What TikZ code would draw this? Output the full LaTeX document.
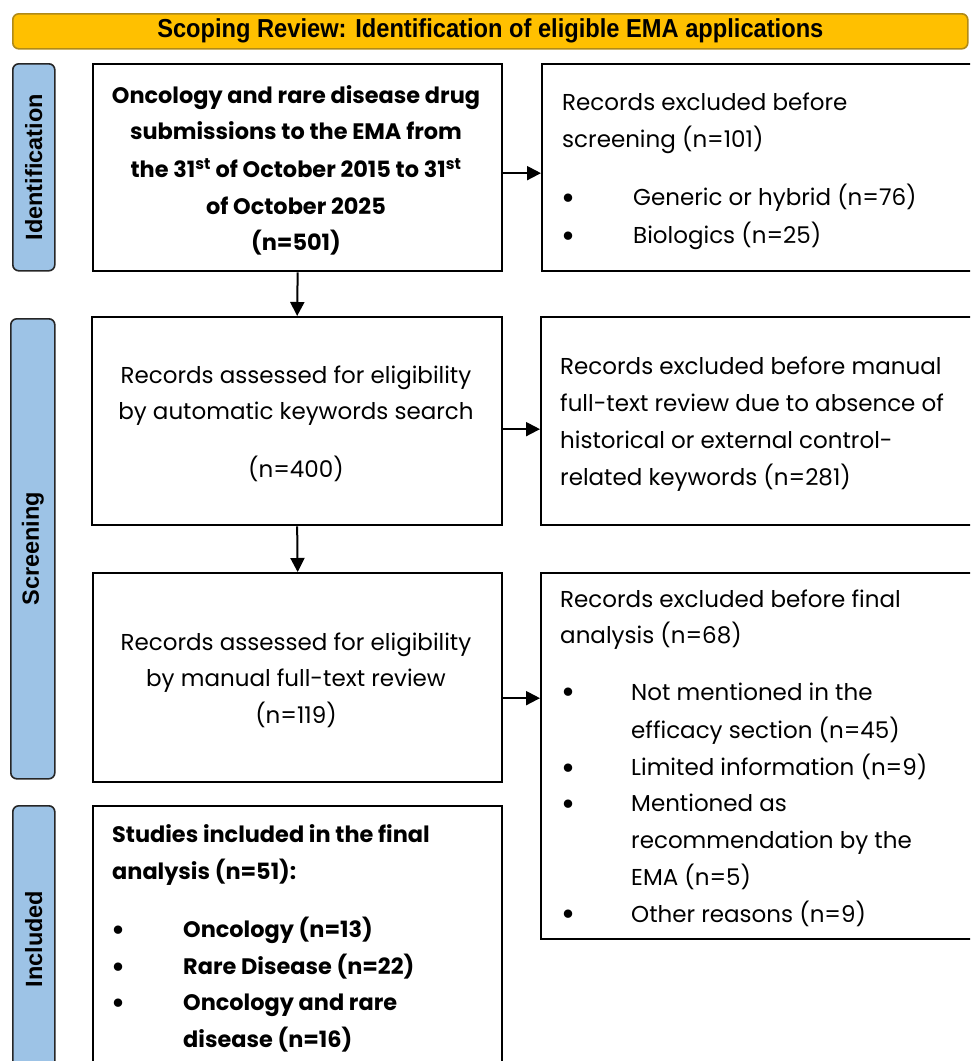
\documentclass[tikz,border=0pt]{standalone}
\usepackage{fontspec}
\setmainfont{Poppins}
\newfontfamily\headfont{Liberation Sans}
\usetikzlibrary{arrows.meta,calc}
\definecolor{bannerfill}{HTML}{FFC000}
\definecolor{bannerline}{HTML}{B08A18}
\definecolor{stagefill}{HTML}{9DC3E6}
\tikzset{
  box/.style={draw, line width=2.3pt, anchor=north west, inner sep=0pt},
  stage/.style={draw=black!85, fill=stagefill, rounded corners=6pt, line width=1.6pt, anchor=north west, inner sep=0pt},
  txt/.style={anchor=mid west, inner sep=0pt, yshift=-4.5pt, font=\fontsize{23}{27}\selectfont},
  ctxt/.style={anchor=mid, inner sep=0pt, yshift=-4.5pt, font=\fontsize{23}{27}\selectfont},
  btxt/.style={txt, font=\fontsize{22.4}{27}\selectfont\bfseries},
  bctxt/.style={ctxt, font=\fontsize{22.4}{27}\selectfont\bfseries},
  bul/.style={anchor=center, inner sep=0pt, yshift=-4pt, font=\fontsize{34}{36}\selectfont},
  stagetxt/.style={anchor=center, rotate=90, inner sep=0pt, font=\headfont\bfseries\fontsize{23.5}{26}\selectfont},
  arr/.style={line width=2pt, -{Triangle[length=14pt, width=14pt]}},
}
\begin{document}
\begin{tikzpicture}[x=1pt, y=-1pt]
\useasboundingbox (0,0) rectangle (970,1061);
\clip (0,0) rectangle (970,1061);

% title banner
\node[draw=bannerline, fill=bannerfill, rounded corners=6pt, line width=1.6pt,
      minimum width=955pt, minimum height=35pt, anchor=north west, inner sep=0pt] (banner) at (12,13) {};
\node[anchor=center, inner sep=0pt, font=\headfont\bfseries\fontsize{26}{30}\selectfont] (bannertxt) at (banner.center)
  {\scalebox{0.91}[1]{Scoping Review: Identification of eligible EMA applications}};

% stage labels
\node[stage, minimum width=42pt, minimum height=207pt] (sid) at (12,63) {};
\node[stagetxt] (sidt) at (sid.center) {Identification};
\node[stage, minimum width=44pt, minimum height=460pt] (ssc) at (10,318) {};
\node[stagetxt] (ssct) at (ssc.center) {Screening};
\node[stage, minimum width=42pt, minimum height=280pt] (sin) at (12,805) {};
\node[stagetxt] (sint) at ([yshift=-134pt]sin.north) {Included};

% main column
\node[box, minimum width=409pt, minimum height=207pt] (b1) at (92,63) {};
\node[bctxt] (b1a) at (296,96) {Oncology and rare disease drug};
\node[bctxt] (b1b) at (296,132) {submissions to the EMA from};
\node[bctxt] (b1c) at (296,170) {the 31\textsuperscript{st} of October 2015 to 31\textsuperscript{st}};
\node[bctxt] (b1d) at (296,207) {of October 2025};
\node[bctxt] (b1e) at (296,243) {(n=501)};

\node[box, minimum width=410pt, minimum height=208pt] (b2) at (91,316) {};
\node[ctxt] (b2a) at (296,376) {Records assessed for eligibility};
\node[ctxt] (b2b) at (296,412) {by automatic keywords search};
\node[ctxt] (b2c) at (296,470) {(n=400)};

\node[box, minimum width=409pt, minimum height=209pt] (b3) at (92,572) {};
\node[ctxt] (b3a) at (296,643) {Records assessed for eligibility};
\node[ctxt] (b3b) at (296,679) {by manual full-text review};
\node[ctxt] (b3c) at (296,716) {(n=119)};

\node[box, minimum width=409pt, minimum height=280pt] (b4) at (92,805) {};
\node[btxt] (b4a) at (112,835) {Studies included in the final};
\node[btxt] (b4b) at (112,872) {analysis (n=51):};
\node[bul] (b4u1) at (119,930) {•};
\node[btxt] (b4c) at (183,930) {Oncology (n=13)};
\node[bul] (b4u2) at (119,967) {•};
\node[btxt] (b4d) at (183,967) {Rare Disease (n=22)};
\node[bul] (b4u3) at (119,1003) {•};
\node[btxt] (b4e) at (183,1003) {Oncology and rare};
\node[btxt] (b4f) at (183,1040) {disease (n=16)};

% exclusion column
\node[box, minimum width=460pt, minimum height=207pt] (r1) at (541,63) {};
\node[txt] (r1a) at (562,103) {Records excluded before};
\node[txt] (r1b) at (562,140) {screening (n=101)};
\node[bul] (r1u1) at (568,198) {•};
\node[txt] (r1c) at (633,198) {Generic or hybrid (n=76)};
\node[bul] (r1u2) at (568,236) {•};
\node[txt] (r1d) at (633,236) {Biologics (n=25)};

\node[box, minimum width=460pt, minimum height=208pt] (r2) at (540,316) {};
\node[txt] (r2a) at (560,367) {Records excluded before manual};
\node[txt] (r2b) at (560,404) {full-text review due to absence of};
\node[txt] (r2c) at (560,441) {historical or external control-};
\node[txt] (r2d) at (560,478) {related keywords (n=281)};

\node[box, minimum width=460pt, minimum height=366pt] (r3) at (540,572) {};
\node[txt] (r3a) at (560,600) {Records excluded before final};
\node[txt] (r3b) at (560,636) {analysis (n=68)};
\node[bul] (r3u1) at (568,692) {•};
\node[txt] (r3c) at (631,693) {Not mentioned in the};
\node[txt] (r3d) at (631,731) {efficacy section (n=45)};
\node[bul] (r3u2) at (568,768) {•};
\node[txt] (r3e) at (631,768) {Limited information (n=9)};
\node[bul] (r3u3) at (568,804) {•};
\node[txt] (r3f) at (631,804) {Mentioned as};
\node[txt] (r3g) at (631,841) {recommendation by the};
\node[txt] (r3h) at (631,878) {EMA (n=5)};
\node[bul] (r3u4) at (568,914) {•};
\node[txt] (r3i) at (631,915) {Other reasons (n=9)};

% connectors
\draw[arr] (b1.south) -- (b2.north);
\draw[arr] (b2.south) -- (b3.north);
\draw[arr] ([yshift=-5.5pt]b1.east) -- ([yshift=-5.5pt]b1.east -| r1.west);
\draw[arr] ([yshift=-8pt]b2.east) -- ([yshift=-8pt]b2.east -| r2.west);
\draw[arr] ([yshift=-20.5pt]b3.east) -- ([yshift=-20.5pt]b3.east -| r3.west);
\end{tikzpicture}
\end{document}
